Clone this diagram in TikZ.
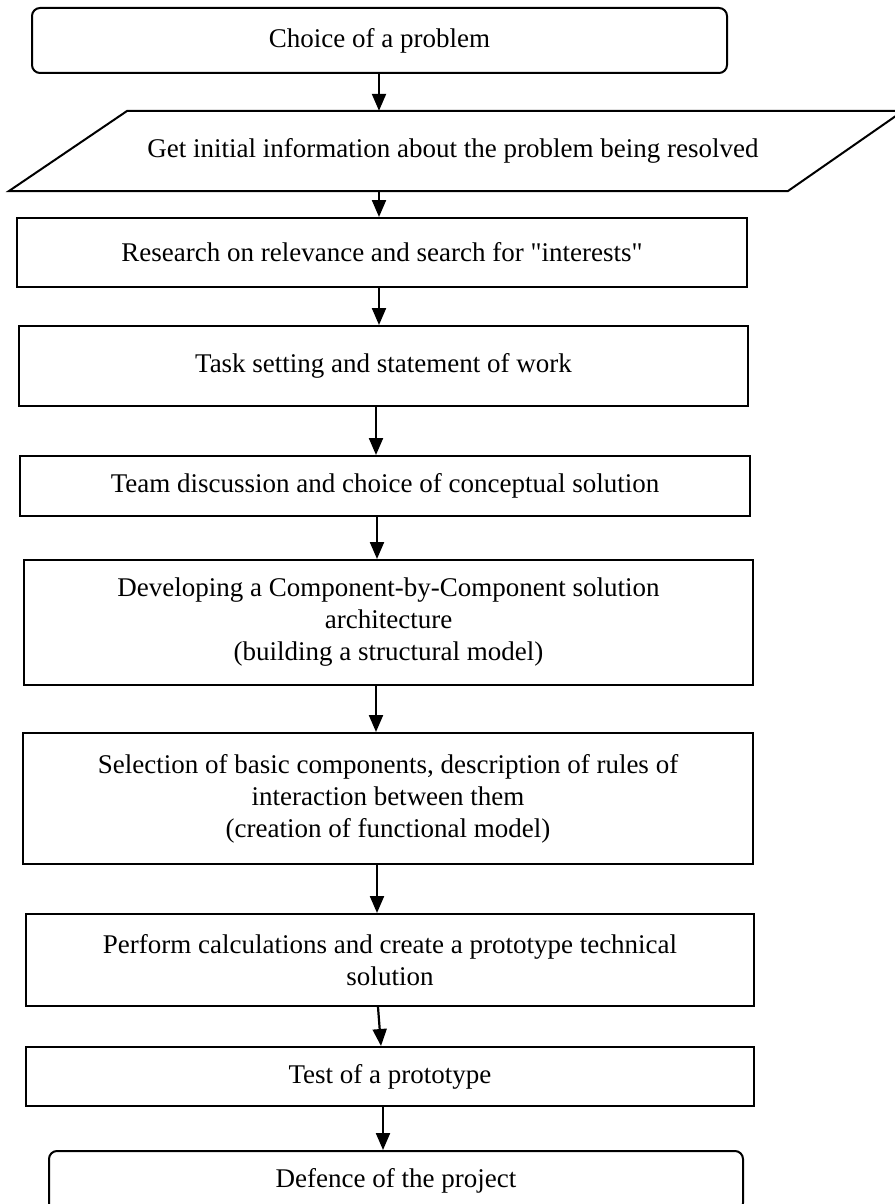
\documentclass[tikz,border=0pt]{standalone}
\usepackage{fontspec}
\setmainfont{Liberation Serif}
\usetikzlibrary{arrows.meta}
\tikzset{
  stepbox/.style={draw, line width=2pt, minimum width=729pt, inner sep=0pt,
    align=center, font=\fontsize{27}{32}\selectfont},
  endbox/.style={stepbox, rounded corners=8pt},
  flow/.style={line width=2.2pt, -{Triangle[length=17pt,width=14pt]}}
}

\begin{document}
\begin{tikzpicture}[x=1pt,y=-1pt]
    \useasboundingbox (0,0) rectangle (894,1204);

    \node[endbox, minimum width=695pt, minimum height=65pt] (choice) at (379.5,40.5) {Choice of a problem};

    % input parallelogram, its right corner runs off the page
    \node[inner sep=0pt, minimum height=80pt, font=\fontsize{27}{32}\selectfont] (info) at (453,151)
        {Get initial information about the problem being resolved};
    \draw[line width=2pt] (127,111) -- (903,111) -- (788,191) -- (9,191) -- cycle;

    \node[stepbox, minimum width=730pt, minimum height=69pt] (research) at (382,252.5)
        {Research on relevance and search for \textquotedbl interests\textquotedbl};
    \node[stepbox, minimum height=80pt] (task) at (383.5,366) {Task setting and statement of work};
    \node[stepbox, minimum width=730pt, minimum height=60pt] (team) at (385,486)
        {Team discussion and choice of conceptual solution};
    \node[stepbox, minimum height=125pt] (develop) at (388.5,622.5)
        {Developing a Component-by-Component solution\\ architecture\\ (building a structural model)};
    \node[stepbox, minimum width=730pt, minimum height=131pt] (select) at (388,798.5)
        {Selection of basic components, description of rules of\\ interaction between them\\ (creation of functional model)};
    \node[stepbox, minimum width=728pt, minimum height=92pt] (perform) at (390,960)
        {Perform calculations and create a prototype technical\\ solution};
    \node[stepbox, minimum width=728pt, minimum height=59pt] (test) at (390,1076.5) {Test of a prototype};
    \node[endbox, minimum width=694pt, minimum height=60pt] (defence) at (396,1181) {Defence of the project};

    \foreach \a/\b/\xa/\xb in {choice/info/379/379, info/research/379/379, research/task/379/379,
        task/team/376/376, team/develop/377/377, develop/select/376/376,
        select/perform/377/377, perform/test/378/381, test/defence/383/383}
        \draw[flow] (\a.south -| \xa,0) -- (\b.north -| \xb,0);
\end{tikzpicture}
\end{document}
